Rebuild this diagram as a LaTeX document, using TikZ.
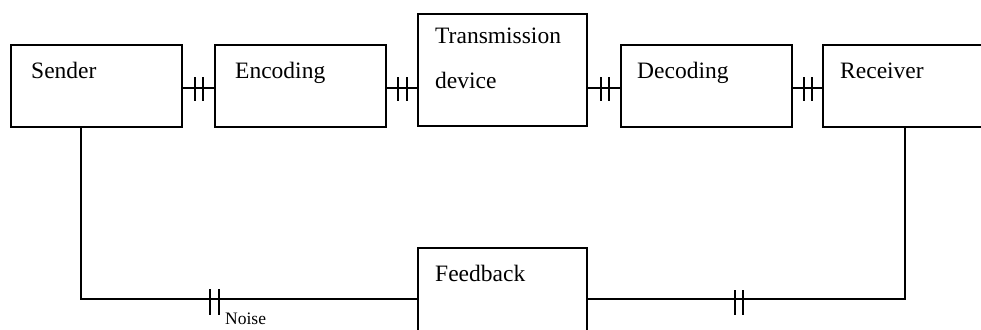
\documentclass[tikz,border=0pt]{standalone}
\usepackage{fontspec}
\setmainfont{Liberation Serif}
\usetikzlibrary{calc}
\tikzset{
  box/.style={draw, line width=1.6pt, rectangle, inner sep=0pt},
  wire/.style={line width=1.6pt},
  lbl/.style={anchor=base west, inner sep=0pt, font=\fontsize{23.5}{26}\selectfont},
  small/.style={anchor=base west, inner sep=0pt, font=\fontsize{17.5}{19}\selectfont},
  tk/.style={line width=1.8pt}
}
\newcommand\dticks[2]{%
  \draw[tk] ($(#1)+(-#2,-11)$) -- ($(#1)+(-#2,13)$);
  \draw[tk] ($(#1)+(#2,-11)$) -- ($(#1)+(#2,13)$);}
\begin{document}
\begin{tikzpicture}[x=1pt,y=-1pt]
\useasboundingbox (0,0) rectangle (981,329);
\clip (0,0) rectangle (981,329);
% boxes
\node[box, minimum width=171, minimum height=82] (sender) at (96.5,86) {};
\node[box, minimum width=171, minimum height=82] (enc) at (300.5,86) {};
\node[box, minimum width=169, minimum height=112] (trans) at (502.5,70) {};
\node[box, minimum width=171, minimum height=82] (dec) at (706.5,86) {};
\node[box, minimum width=164, minimum height=82] (recv) at (905,86) {};
\node[box, minimum width=169, minimum height=102] (fb) at (502.5,299) {};
% texts
\node[lbl] (tsender) at (31,78) {Sender};
\node[lbl] (tenc) at (235,78) {Encoding};
\node[lbl] (ttrans) at (435,44) {Transmission};
\node[lbl] (tdev) at (435,88) {device};
\node[lbl] (tdec) at (637,78) {Decoding};
\node[lbl] (trecv) at (840,78) {Receiver};
\node[lbl] (tfb) at (435,281) {Feedback};
\node[small] (tnoise) at (225,324) {Noise};
% connectors
\draw[wire] ($(sender.east)+(0,2)$) -- coordinate[pos=0.515] (t1) ($(enc.west)+(0,2)$);
\draw[wire] ($(enc.east)+(0,2)$) -- coordinate[pos=0.52] (t2) ($(trans.west)+(0,18)$);
\draw[wire] ($(trans.east)+(0,18)$) -- coordinate[pos=0.53] (t3) ($(dec.west)+(0,2)$);
\draw[wire] ($(dec.east)+(0,2)$) -- coordinate[pos=0.52] (t4) ($(recv.west)+(0,2)$);
\dticks{t1}{4}\dticks{t2}{4.5}\dticks{t3}{4}\dticks{t4}{4}
\coordinate (sdown) at (81,127);
\draw[wire] (sdown) |- (fb.west);
\draw[wire] (recv.south) |- (fb.east);
\coordinate (t5) at (214.5,299);
\coordinate (t6) at (739,299);
\draw[tk] ($(t5)+(-4.5,-10)$) -- ($(t5)+(-4.5,16)$);
\draw[tk] ($(t5)+(4.5,-10)$) -- ($(t5)+(4.5,16)$);
\draw[tk] ($(t6)+(-4,-9)$) -- ($(t6)+(-4,16)$);
\draw[tk] ($(t6)+(4,-9)$) -- ($(t6)+(4,16)$);
\end{tikzpicture}
\end{document}
